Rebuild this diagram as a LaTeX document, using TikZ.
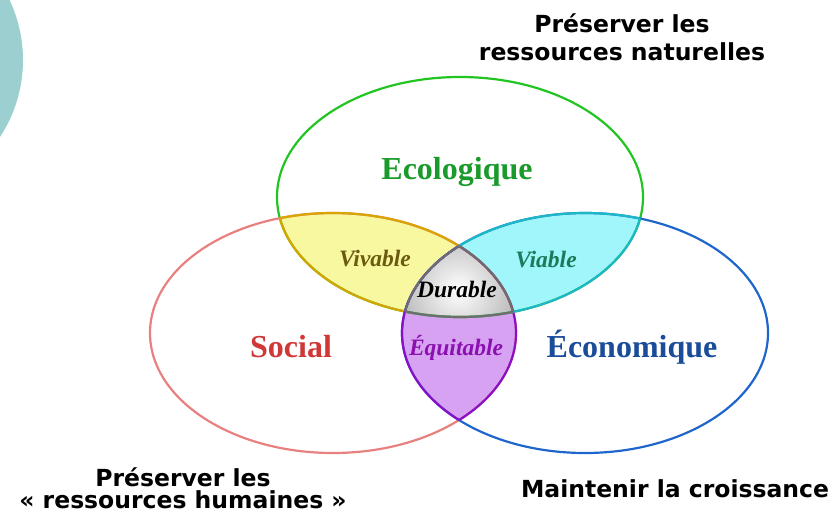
\documentclass[tikz,border=0pt]{standalone}
\usepackage{fontspec}
\setmainfont{Liberation Serif}
\newfontfamily\capfont{DejaVu Sans}
\definecolor{ecoG}{HTML}{22C422}
\definecolor{ecoGt}{HTML}{1A9A2A}
\definecolor{socR}{HTML}{E88080}
\definecolor{socRt}{HTML}{D03838}
\definecolor{ecnB}{HTML}{1E66CC}
\definecolor{ecnBt}{HTML}{1A4C9A}
\definecolor{gold}{HTML}{D9A400}
\definecolor{yelF}{HTML}{F8F8A0}
\definecolor{cyaS}{HTML}{1CB8C8}
\definecolor{cyaF}{HTML}{A0F6FA}
\definecolor{purS}{HTML}{8A10C8}
\definecolor{purF}{HTML}{D8A2F2}
\definecolor{gryS}{HTML}{6E6E6E}
\definecolor{gryF}{HTML}{B4B4B4}
\definecolor{vivT}{HTML}{6B5A10}
\definecolor{viaT}{HTML}{1A7A5A}
\definecolor{equT}{HTML}{8A10B0}
\definecolor{tealC}{HTML}{9CCFCF}
\begin{document}
\begin{tikzpicture}[x=1pt,y=-1pt,
  ell/.style={x radius=183pt, y radius=120pt},
  edge/.style={line width=2.2pt},
  bigl/.style={inner sep=0pt, anchor=base, font=\fontsize{32}{36}\selectfont\bfseries},
  midl/.style={inner sep=0pt, anchor=base, font=\fontsize{23.5}{26}\selectfont\bfseries\itshape},
  capl/.style={inner sep=0pt, anchor=base, font=\capfont\fontsize{23.5}{26}\selectfont\bfseries}]
\useasboundingbox (0,0) rectangle (837,513);
% decorative teal disc
\fill[tealC] (-117,60) circle [radius=140pt];
\coordinate (G) at (460,197);
\coordinate (R) at (333,333);
\coordinate (B) at (585,333);
% pairwise fills
\begin{scope}
  \clip (G) ellipse [ell];
  \fill[yelF] (R) ellipse [ell];
  \fill[cyaF] (B) ellipse [ell];
\end{scope}
\begin{scope}
  \clip (R) ellipse [ell];
  \fill[purF] (B) ellipse [ell];
\end{scope}
\begin{scope}
  \clip (G) ellipse [ell];
  \clip (R) ellipse [ell];
  \clip (B) ellipse [ell];
  \fill[gryF] (400,240) rectangle (520,320);
  \shade[inner color=white, outer color=gryF] (458,290) circle [radius=64pt];
\end{scope}
% main outlines
\draw[edge, ecoG] (G) ellipse [ell];
\draw[edge, socR] (R) ellipse [ell];
\draw[edge, ecnB] (B) ellipse [ell];
% red ellipse parts
\begin{scope}\clip (G) ellipse [ell]; \draw[edge, gold] (R) ellipse [ell]; \end{scope}
\begin{scope}\clip (B) ellipse [ell]; \draw[edge, purS] (R) ellipse [ell]; \end{scope}
% green ellipse parts
\begin{scope}\clip (R) ellipse [ell]; \draw[edge, gold] (G) ellipse [ell]; \end{scope}
\begin{scope}\clip (B) ellipse [ell]; \draw[edge, cyaS] (G) ellipse [ell]; \end{scope}
% blue ellipse parts
\begin{scope}\clip (G) ellipse [ell]; \draw[edge, cyaS] (B) ellipse [ell]; \end{scope}
\begin{scope}\clip (R) ellipse [ell]; \draw[edge, purS] (B) ellipse [ell]; \end{scope}
% triple region borders
\begin{scope}
  \clip (G) ellipse [ell]; \clip (R) ellipse [ell];
  \draw[edge, gryS] (B) ellipse [ell];
\end{scope}
\begin{scope}
  \clip (G) ellipse [ell]; \clip (B) ellipse [ell];
  \draw[edge, gryS] (R) ellipse [ell];
\end{scope}
\begin{scope}
  \clip (R) ellipse [ell]; \clip (B) ellipse [ell];
  \draw[edge, gryS] (G) ellipse [ell];
\end{scope}
% labels
\node[bigl, text=ecoGt] (eco) at (457,179) {Ecologique};
\node[bigl, text=socRt] (soc) at (291,357) {Social};
\node[bigl, text=ecnBt] (ecn) at (632,357) {Économique};
\node[midl, text=vivT] (viv) at (375,266) {Vivable};
\node[midl, text=viaT] (via) at (546,267) {Viable};
\node[midl, text=black] (dur) at (457,297) {Durable};
\node[midl, text=equT] (equ) at (456,355) {Équitable};
% captions
\node[capl] (nat1) at (622,33) {Préserver les};
\node[capl] (nat2) at (622,61) {ressources naturelles};
\node[capl] (hum1) at (183,486) {Préserver les};
\node[capl] (hum2) at (183,508) {« ressources humaines »};
\node[capl] (cro) at (675,497) {Maintenir la croissance};
\end{tikzpicture}
\end{document}
